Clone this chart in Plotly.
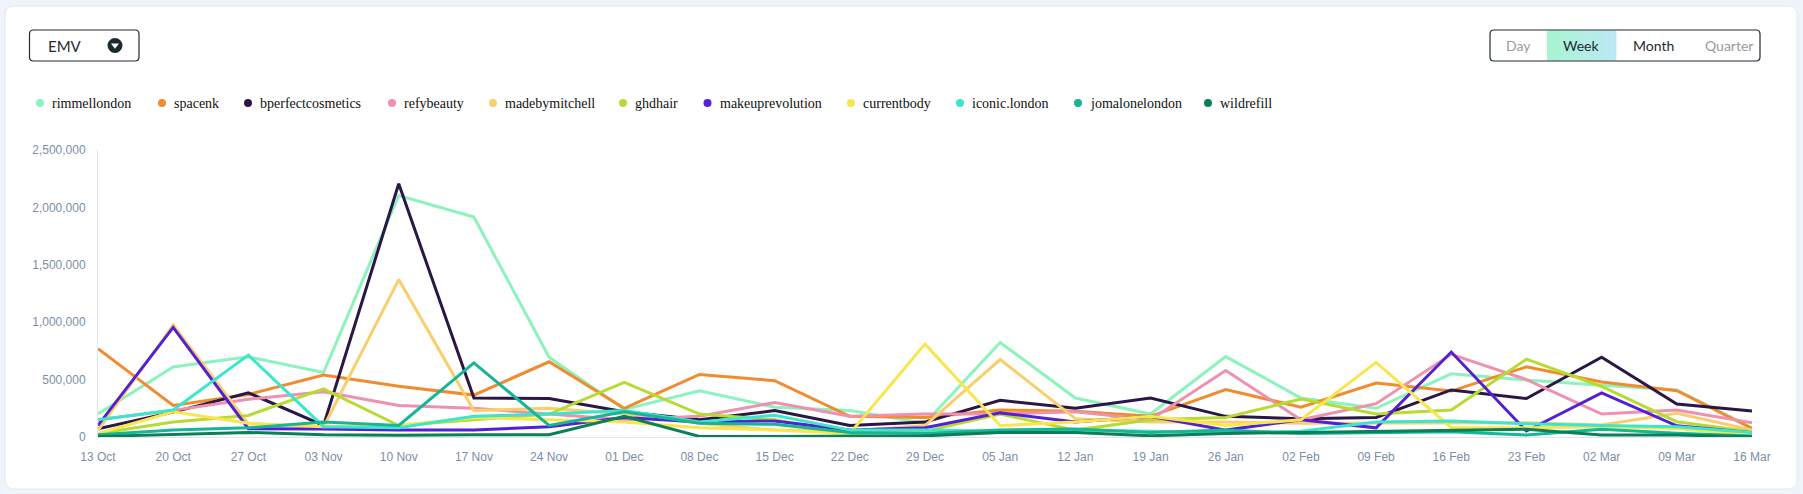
import plotly.graph_objects as go

# ---------------- data ----------------
weeks = ["13 Oct", "20 Oct", "27 Oct", "03 Nov", "10 Nov", "17 Nov", "24 Nov", "01 Dec",
         "08 Dec", "15 Dec", "22 Dec", "29 Dec", "05 Jan", "12 Jan", "19 Jan", "26 Jan",
         "02 Feb", "09 Feb", "16 Feb", "23 Feb", "02 Mar", "09 Mar", "16 Mar"]

rimmellondon = [200000, 610000, 698000, 562000, 2104000, 1916000, 695000, 240000, 403000, 260000,
                230000, 120000, 823000, 339000, 200000, 700000, 340000, 250000, 550000, 496000,
                450000, 410000, 80000]
spacenk = [770000, 275000, 370000, 539000, 443000, 365000, 655000, 250000, 545000, 490000,
           180000, 170000, 235000, 225000, 180000, 414000, 260000, 470000, 400000, 611000,
           480000, 403000, 75000]
bperfectcosmetics = [72000, 217000, 385000, 101000, 2206000, 339000, 335000, 220000, 150000, 230000,
                     100000, 130000, 320000, 250000, 340000, 180000, 160000, 170000, 410000, 335000,
                     695000, 287000, 226000]
refybeauty = [150000, 232000, 328000, 394000, 275000, 250000, 200000, 150000, 180000, 300000,
              180000, 200000, 200000, 220000, 150000, 580000, 150000, 290000, 720000, 500000,
              200000, 235000, 125000]
madebymitchell = [58000, 975000, 115000, 87000, 1371000, 230000, 250000, 200000, 120000, 60000,
                  50000, 100000, 675000, 160000, 130000, 130000, 120000, 120000, 125000, 125000,
                  104000, 206000, 61000]
ghdhair = [30000, 130000, 188000, 420000, 100000, 150000, 200000, 475000, 200000, 150000,
           30000, 50000, 200000, 60000, 150000, 170000, 330000, 200000, 235000, 678000,
           440000, 133000, 46000]
makeuprevolution = [101000, 955000, 72000, 70000, 60000, 60000, 90000, 170000, 130000, 140000,
                    60000, 80000, 210000, 130000, 180000, 60000, 150000, 80000, 740000, 52000,
                    385000, 98000, 38000]
currentbody = [30000, 220000, 120000, 90000, 100000, 170000, 150000, 130000, 80000, 60000,
               30000, 809000, 100000, 130000, 180000, 100000, 150000, 650000, 81000, 81000,
               90000, 75000, 17000]
iconic_london = [150000, 235000, 713000, 90000, 80000, 180000, 200000, 230000, 130000, 190000,
                 60000, 60000, 50000, 60000, 50000, 40000, 50000, 130000, 140000, 115000,
                 100000, 90000, 40000]
jomalonelondon = [20000, 60000, 80000, 130000, 100000, 646000, 100000, 220000, 120000, 110000,
                  40000, 30000, 60000, 70000, 40000, 60000, 30000, 40000, 46000, 17000,
                  67000, 32000, 9000]
wildrefill = [5000, 20000, 40000, 20000, 15000, 20000, 20000, 180000, 5000, 5000,
              10000, 10000, 40000, 40000, 10000, 30000, 40000, 50000, 61000, 67000,
              17000, 17000, 3000]

series_names = ["rimmellondon", "spacenk", "bperfectcosmetics", "refybeauty", "madebymitchell",
                "ghdhair", "makeuprevolution", "currentbody", "iconic.london", "jomalonelondon",
                "wildrefill"]
series_values = [rimmellondon, spacenk, bperfectcosmetics, refybeauty, madebymitchell,
                 ghdhair, makeuprevolution, currentbody, iconic_london, jomalonelondon,
                 wildrefill]
y_ticks = [0, 500000, 1000000, 1500000, 2000000, 2500000]
buttons = ["Day", "Week", "Month", "Quarter"]

# ---------------- style ----------------
colors = ["#8CF3BD", "#F28A2E", "#2A1745", "#EE91AF", "#F9CF6E", "#B7DB33",
          "#5320D4", "#F9E64E", "#3CE6CE", "#16B596", "#0B7F57"]

W, H = 1803, 494
PL, PR, PT, PB = 98, 1752, 150, 437  # plot area in pixels


def px(x):
    return (x - PL) / (PR - PL)


def py(y):
    return (PB - y) / (PB - PT)


def rrect(x0, y0, x1, y1, r):
    pts = [
        ("M", [(x0 + r, y0)]), ("L", [(x1 - r, y0)]), ("Q", [(x1, y0), (x1, y0 + r)]),
        ("L", [(x1, y1 - r)]), ("Q", [(x1, y1), (x1 - r, y1)]), ("L", [(x0 + r, y1)]),
        ("Q", [(x0, y1), (x0, y1 - r)]), ("L", [(x0, y0 + r)]), ("Q", [(x0, y0), (x0 + r, y0)]),
    ]
    s = ""
    for cmd, ps in pts:
        s += cmd + " " + " ".join(f"{px(a):.6f},{py(b):.6f}" for a, b in ps) + " "
    return s + "Z"


fig = go.Figure()
for name, vals, col in zip(series_names, series_values, colors):
    fig.add_trace(go.Scatter(x=weeks, y=vals, mode="lines", name=name,
                             line=dict(color=col, width=3), showlegend=False))

shapes = []
annotations = []

# card
shapes.append(dict(type="path", xref="paper", yref="paper", path=rrect(5, 6, 1797, 489, 9),
                   fillcolor="#FFFFFF", line=dict(color="#E2E9EE", width=1), layer="below"))

# EMV dropdown
ey0, ey1 = 30, 61
ecy = (ey0 + ey1) / 2
shapes.append(dict(type="path", xref="paper", yref="paper", path=rrect(29.5, ey0, 139, ey1, 4),
                   fillcolor="#FFFFFF", line=dict(color="#1F2B33", width=1.2), layer="above"))
annotations.append(dict(xref="paper", yref="paper", x=px(46), y=py(ecy), xanchor="left",
                        yanchor="middle", text="EMV", showarrow=False,
                        font=dict(family="Lato", size=15, color="#1F2B33")))
shapes.append(dict(type="circle", xref="paper", yref="paper", x0=px(107.5), x1=px(122.5),
                   y0=py(ecy - 7.5), y1=py(ecy + 7.5), fillcolor="#1C2A30", line=dict(width=0)))
shapes.append(dict(type="path", xref="paper", yref="paper",
                   path=f"M {px(111):.6f},{py(ecy - 2):.6f} L {px(119):.6f},{py(ecy - 2):.6f} L {px(115):.6f},{py(ecy + 3.3):.6f} Z",
                   fillcolor="#FFFFFF", line=dict(width=0)))

# button group
bx0, bx1, by0, by1 = 1490, 1760, 30, 61
bcy = (by0 + by1) / 2
shapes.append(dict(type="path", xref="paper", yref="paper", path=rrect(bx0, by0, bx1, by1, 4),
                   fillcolor="#FFFFFF", line=dict(width=0)))
wx0, wx1 = 1547, 1616
n_strips = 24
c0 = (0xA8, 0xF5, 0xD2)
c1 = (0xBB, 0xE7, 0xF4)
for i in range(n_strips):
    t = i / (n_strips - 1)
    c = tuple(int(round(c0[k] + (c1[k] - c0[k]) * t)) for k in range(3))
    xa = wx0 + (wx1 - wx0) * i / n_strips
    xb = wx0 + (wx1 - wx0) * (i + 1) / n_strips + 0.4
    shapes.append(dict(type="rect", xref="paper", yref="paper", x0=px(xa), x1=px(xb),
                       y0=py(by1 - 0.5), y1=py(by0 + 0.5),
                       fillcolor="rgb(%d,%d,%d)" % c, line=dict(width=0)))
shapes.append(dict(type="path", xref="paper", yref="paper", path=rrect(bx0, by0, bx1, by1, 4),
                   fillcolor="rgba(0,0,0,0)", line=dict(color="#1F2B33", width=1.2)))
btn_x = [1518, 1581, 1653, 1729]
btn_col = ["#9A9A9A", "#1F2B33", "#1F2B33", "#9A9A9A"]
for label, x, c in zip(buttons, btn_x, btn_col):
    annotations.append(dict(xref="paper", yref="paper", x=px(x), y=py(bcy), xanchor="center",
                            yanchor="middle", text=label, showarrow=False,
                            font=dict(family="Lato", size=14, color=c)))

# legend (custom row of dots + serif labels)
leg_x = [40, 162, 248, 392, 493, 623, 707.5, 851, 960, 1078, 1208]
leg_y = 103
for name, col, x in zip(series_names, colors, leg_x):
    shapes.append(dict(type="circle", xref="paper", yref="paper", x0=px(x - 4), x1=px(x + 4),
                       y0=py(leg_y + 4), y1=py(leg_y - 4), fillcolor=col, line=dict(width=0)))
    annotations.append(dict(xref="paper", yref="paper", x=px(x + 10), y=py(leg_y), xanchor="left",
                            yanchor="middle", text=name, showarrow=False,
                            font=dict(family="Liberation Serif", size=14, color="#111111")))

fig.update_layout(
    width=W, height=H, autosize=False,
    margin=dict(l=PL, r=W - PR, t=PT, b=H - PB, pad=0),
    paper_bgcolor="#EEF4F9", plot_bgcolor="rgba(0,0,0,0)",
    shapes=shapes, annotations=annotations, showlegend=False,
    xaxis=dict(type="category", range=[0, len(weeks) - 1], showgrid=False, zeroline=False,
               showline=True, linecolor="#E2E4E8", linewidth=1, ticks="outside", ticklen=9,
               tickcolor="rgba(0,0,0,0)", automargin=False,
               tickfont=dict(family="Liberation Sans", size=12, color="#7C8EA7")),
    yaxis=dict(range=[0, 2500000], tickvals=y_ticks, tickformat=",d", showgrid=False,
               zeroline=False, showline=True, linecolor="#E2E4E8", linewidth=1,
               ticks="outside", ticklen=9, tickcolor="rgba(0,0,0,0)", automargin=False,
               tickfont=dict(family="Liberation Sans", size=12, color="#7C8EA7")),
)

fig.write_html(
    "out.html",
    config={"displayModeBar": False},
    post_script="document.body.style.margin='0';document.body.style.padding='0';"
                "document.body.style.background='#EEF4F9';"
                "document.documentElement.style.overflow='hidden';",
)
